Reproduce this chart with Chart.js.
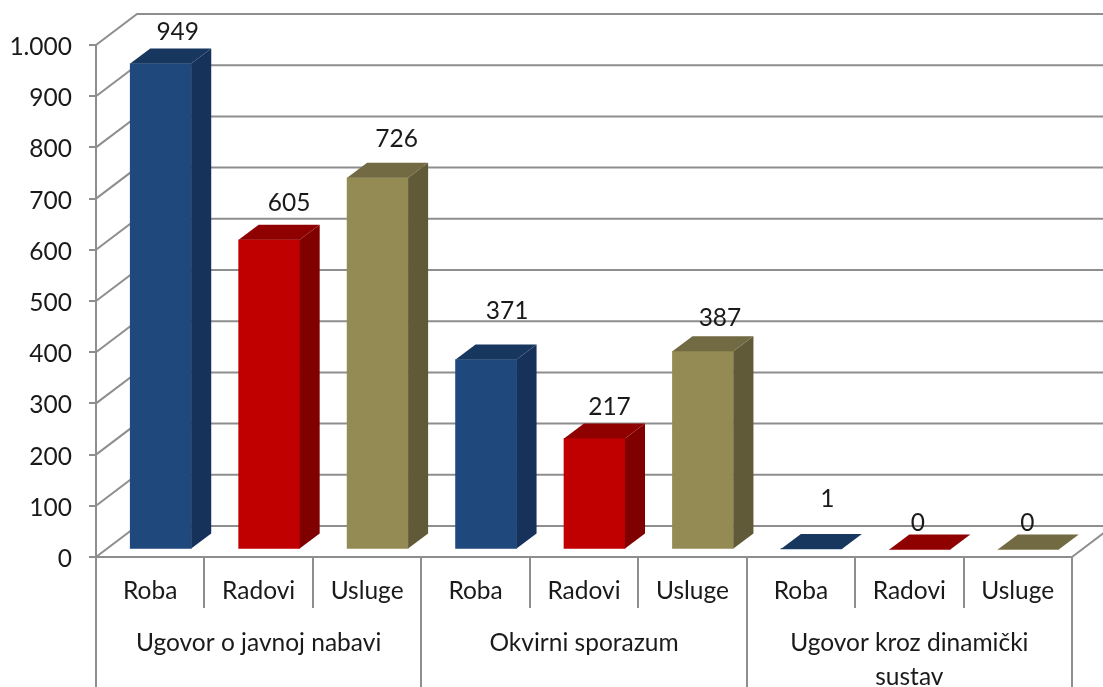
<!DOCTYPE html>
<html>
<head>
<meta charset="utf-8">
<script src="https://cdn.jsdelivr.net/npm/chart.js@4"></script>
<style>
  html, body { margin: 0; padding: 0; background: #fff; }
  canvas { display: block; }
</style>
</head>
<body>
<canvas id="chart" width="1103" height="687"></canvas>
<script>
// ======================
// Datos
// ======================
const tipos = ["Roba", "Radovi", "Usluge"];
const grupos = ["Ugovor o javnoj nabavi", "Okvirni sporazum", ["Ugovor kroz dinamički", "sustav"]];
const ugovorValues = [949, 605, 726];
const okvirniValues = [371, 217, 387];
const dinamickiValues = [1, 0, 0];
const yTicks = ["0", "100", "200", "300", "400", "500", "600", "700", "800", "900", "1.000"];

// etiquetas colocadas a mano en el original: [dx, dy] desde la cara frontal
const labelNudge = [[17, -32], [20, -37], [19, -39], [21, -48], [15, -31], [17, -33], [16, -50], [-2, -26], [-1, -26]];

const labels = grupos.flatMap(() => tipos);
const values = [...ugovorValues, ...okvirniValues, ...dinamickiValues];

// ======================
// Estilo
// ======================
const FONT = "Lato";
const FONT_SIZE = 24.5;
const TEXT = "#1a1a1a";
const LINE = "#8e8e8e";
const frontColors = { Roba: "#1f497d", Radovi: "#c00000", Usluge: "#948a54" };
const sideColors = { Roba: "#17325a", Radovi: "#800000", Usluge: "#615a38" };
const topColors = { Roba: "#17375e", Radovi: "#8f0000", Usluge: "#716a42" };

// desplazamiento de la pared del fondo y de las barras
const WALL = { dx: 41, dy: -31 };
const BAR_SHIFT = { dx: 10.5, dy: -7.5 };
const BAR_DEPTH = { dx: 20, dy: -15 };
const Y_LABEL_DROP = 1;

function poly(ctx, pts, color) {
  ctx.fillStyle = color;
  ctx.beginPath();
  pts.forEach((p, i) => (i ? ctx.lineTo(p[0], p[1]) : ctx.moveTo(p[0], p[1])));
  ctx.closePath();
  ctx.fill();
}

const fake3d = {
  id: "fake3d",
  beforeDatasetsDraw(chart) {
    const { ctx, scales, width, chartArea } = chart;
    ctx.save();
    ctx.strokeStyle = LINE;
    ctx.lineWidth = 2;
    ctx.beginPath();
    scales.y.ticks.forEach(t => {
      const py = scales.y.getPixelForValue(t.value);
      ctx.moveTo(chartArea.left, py);
      ctx.lineTo(chartArea.left + WALL.dx, py + WALL.dy);
      ctx.lineTo(width, py + WALL.dy);
    });
    // esquina derecha del piso
    ctx.moveTo(chartArea.right, chartArea.bottom);
    ctx.lineTo(chartArea.right + WALL.dx, chartArea.bottom + WALL.dy);
    ctx.stroke();
    ctx.restore();
  },
  beforeDatasetDraw(chart) {
    chart.ctx.save();
    chart.ctx.translate(BAR_SHIFT.dx, BAR_SHIFT.dy);
  },
  afterDatasetDraw(chart) {
    chart.ctx.restore();
  },
  afterDatasetsDraw(chart) {
    const { ctx } = chart;
    const meta = chart.getDatasetMeta(0);
    meta.data.forEach((bar, i) => {
      const half = bar.width / 2;
      const l = bar.x - half + BAR_SHIFT.dx;
      const r = bar.x + half + BAR_SHIFT.dx;
      const t = bar.y + BAR_SHIFT.dy;
      const b = bar.base + BAR_SHIFT.dy;
      const d = BAR_DEPTH;
      if (b - t > 0.5) {
        poly(ctx, [[r, t], [r + d.dx, t + d.dy], [r + d.dx, b + d.dy], [r, b]], sideColors[labels[i]]);
      }
      poly(ctx, [[l, t], [l + d.dx, t + d.dy], [r + d.dx, t + d.dy], [r, t]], topColors[labels[i]]);

      ctx.fillStyle = TEXT;
      ctx.font = FONT_SIZE + "px " + FONT;
      ctx.textAlign = "center";
      ctx.textBaseline = "middle";
      ctx.fillText(String(values[i]), (l + r) / 2 + labelNudge[i][0], t + labelNudge[i][1]);
    });
  }
};

// ======================
// Grafica
// ======================
new Chart(document.getElementById("chart"), {
  type: "bar",
  data: {
    labels,
    datasets: [{
      data: values,
      backgroundColor: labels.map(l => frontColors[l]),
      barThickness: 61,
      clip: false
    }]
  },
  options: {
    responsive: false,
    animation: false,
    layout: { padding: { top: 45, right: 31, bottom: 0, left: 0 } },
    plugins: { legend: { display: false }, tooltip: { enabled: false } },
    scales: {
      y: {
        min: 0,
        max: 1000,
        afterFit: s => { s.width = 96; },
        afterBuildTicks: s => { s.ticks = yTicks.map((_, i) => ({ value: i * 100 })); },
        afterUpdate: s => {
          // el texto del eje va un poco por debajo de la marca
          const drawLabels = s.drawLabels;
          s.drawLabels = function (area) {
            s.ctx.save();
            s.ctx.translate(0, Y_LABEL_DROP);
            drawLabels.call(s, area);
            s.ctx.restore();
          };
        },
        grid: { drawOnChartArea: false, lineWidth: 2, tickLength: 7, tickColor: LINE, tickWidth: 2 },
        border: { color: LINE, width: 2 },
        ticks: {
          color: TEXT,
          font: { family: FONT, size: FONT_SIZE },
          padding: 17,
          callback: (v, i) => yTicks[i]
        }
      },
      x: {
        weight: 0,
        afterFit: s => { s.height = 51; },
        grid: { offset: true, drawOnChartArea: false, lineWidth: 2, tickLength: 51, tickColor: LINE, tickWidth: 2 },
        border: { color: LINE, width: 2 },
        ticks: {
          color: TEXT,
          font: { family: FONT, size: FONT_SIZE },
          padding: -32,
          autoSkip: false,
          maxRotation: 0
        }
      },
      x2: {
        type: "category",
        labels: grupos,
        position: "bottom",
        weight: 1,
        offset: true,
        afterFit: s => { s.height = 79; },
        grid: { offset: true, drawOnChartArea: false, lineWidth: 2, tickLength: 80, tickColor: LINE, tickWidth: 2 },
        border: { display: false },
        ticks: {
          color: TEXT,
          font: { family: FONT, size: FONT_SIZE, lineHeight: 1.4 },
          padding: -62,
          autoSkip: false,
          maxRotation: 0
        }
      }
    }
  },
  plugins: [fake3d]
});
</script>
</body>
</html>
